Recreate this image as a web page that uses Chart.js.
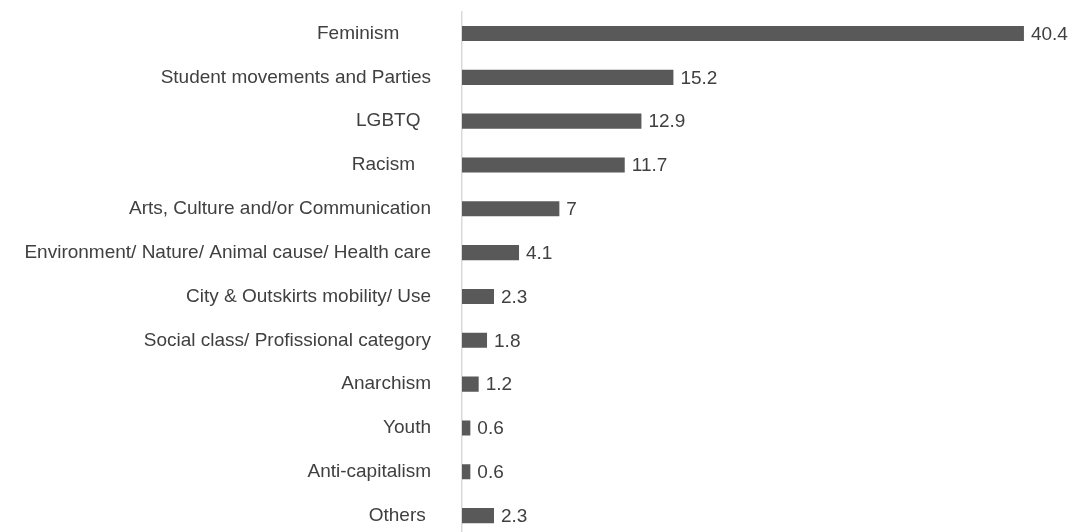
<!DOCTYPE html>
<html>
<head>
<meta charset="utf-8">
<title>Causes</title>
<script src="https://cdn.jsdelivr.net/npm/chart.js@4"></script>
<style>
  html, body { margin: 0; padding: 0; background: #fff; overflow: hidden; }
  #chart { display: block; }
</style>
</head>
<body>
<canvas id="chart" width="1074" height="540"></canvas>
<script>
// Data
const categories = [
  'Feminism      ',
  'Student movements and Parties',
  'LGBTQ  ',
  'Racism   ',
  'Arts, Culture and/or Communication',
  'Environment/ Nature/ Animal cause/ Health care',
  'City & Outskirts mobility/ Use',
  'Social class/ Profissional category',
  'Anarchism',
  'Youth',
  'Anti-capitalism',
  'Others '
];
const values = [40.4, 15.2, 12.9, 11.7, 7, 4.1, 2.3, 1.8, 1.2, 0.6, 0.6, 2.3];

const textColor = '#404040';
const barColor = '#595959';
const fontFamily = '"Liberation Sans", Arial, sans-serif';

// Draw the value next to each bar
const valueLabels = {
  id: 'valueLabels',
  afterDatasetsDraw(chart) {
    const ctx = chart.ctx;
    const meta = chart.getDatasetMeta(0);
    ctx.save();
    ctx.font = '19px ' + fontFamily;
    ctx.fillStyle = textColor;
    ctx.textAlign = 'left';
    ctx.textBaseline = 'middle';
    meta.data.forEach((bar, i) => {
      ctx.fillText(String(values[i]), bar.x + 7, bar.y + 1);
    });
    ctx.restore();
  }
};

new Chart(document.getElementById('chart').getContext('2d'), {
  type: 'bar',
  data: {
    labels: categories,
    datasets: [{
      data: values,
      backgroundColor: barColor,
      borderWidth: 0,
      categoryPercentage: 1,
      barPercentage: 0.345
    }]
  },
  options: {
    indexAxis: 'y',
    responsive: false,
    animation: false,
    devicePixelRatio: 1,
    layout: { padding: { top: 11.6, bottom: 2.5, left: 0, right: 0 } },
    plugins: {
      legend: { display: false },
      tooltip: { enabled: false }
    },
    scales: {
      x: {
        display: false,
        min: 0,
        max: 44
      },
      y: {
        afterFit: (scale) => {
          scale.width = 462;
          scale.paddingTop = 0;
          scale.paddingBottom = 0;
        },
        grid: { display: false, drawTicks: true, tickLength: 31 },
        border: { display: true, color: '#d9d9d9', width: 1.5 },
        ticks: {
          padding: 0,
          color: textColor,
          font: { family: fontFamily, size: 19 }
        }
      }
    }
  },
  plugins: [valueLabels]
});
</script>
</body>
</html>
